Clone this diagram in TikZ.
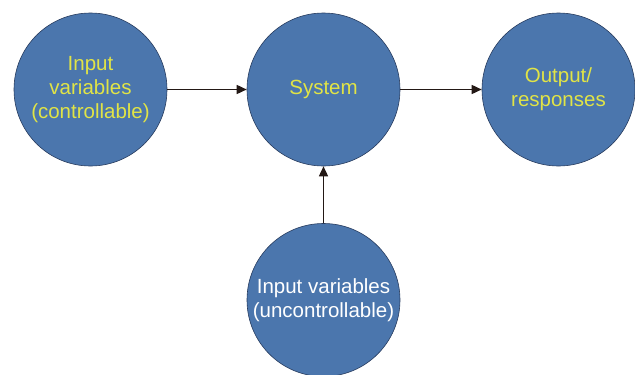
\documentclass[tikz,border=0pt]{standalone}
\usepackage{fontspec}
\setmainfont{Liberation Sans}
\usetikzlibrary{arrows.meta}
\definecolor{circfill}{RGB}{75,118,173}
\definecolor{circline}{RGB}{40,60,95}
\definecolor{txtyellow}{RGB}{225,228,70}
\definecolor{arrowcol}{RGB}{35,24,21}
\begin{document}
\begin{tikzpicture}[x=1pt,y=1pt,
  blob/.style={circle,draw=circline,line width=0.6pt,fill=circfill,minimum size=153pt,inner sep=0pt,align=center,font=\fontsize{20.5}{24}\selectfont},
  conn/.style={draw=arrowcol,line width=1.5pt,-{Triangle[length=10pt,width=9pt]}}]
\useasboundingbox (0,0) rectangle (635,-375);
\node[blob,text=txtyellow] (in) at (90.5,-89.5) {Input\\variables\\(controllable)};
\node[blob,text=txtyellow] (sys) at (323.5,-89.5) {System};
\node[blob,text=txtyellow] (out) at (558.5,-89.5) {Output/\\responses};
\node[blob,text=white] (unc) at (323.5,-300) {Input variables\\(uncontrollable)};
\draw[conn] (in.east) -- (sys.west);
\draw[conn] (sys.east) -- (out.west);
\draw[conn] (unc.north) -- (sys.south);
\end{tikzpicture}
\end{document}
